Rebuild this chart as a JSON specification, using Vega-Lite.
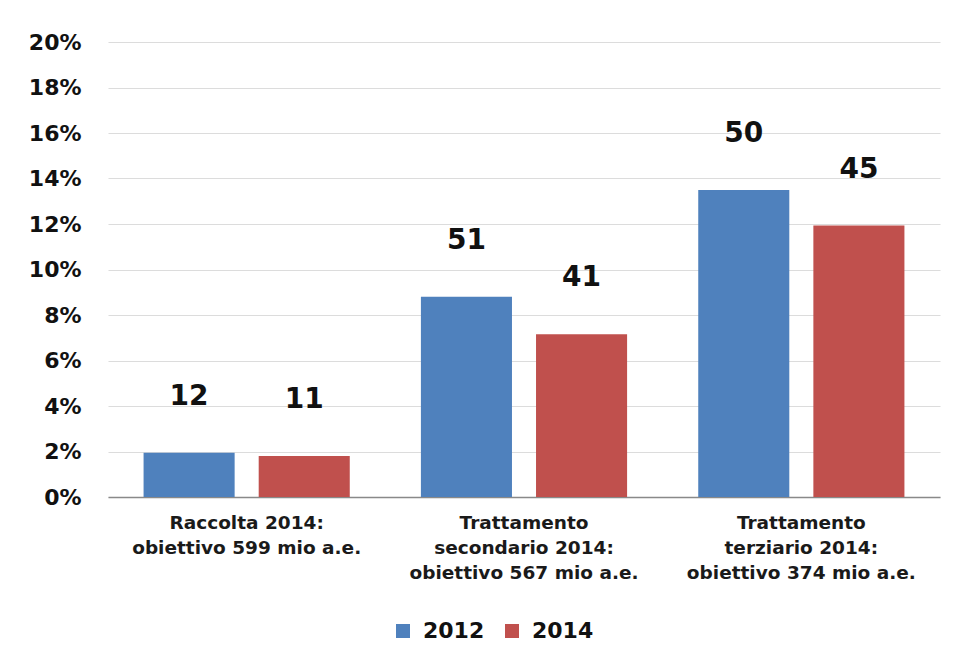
{
  "$schema": "https://vega.github.io/schema/vega-lite/v6.json",
  "width": 832,
  "height": 455,
  "autosize": {"type": "none"},
  "padding": {"left": 108, "top": 42, "right": 17, "bottom": 165},
  "background": "white",
  "config": {
    "view": {"stroke": null},
    "font": "DejaVu Sans"
  },
  "data": {
    "values": [
      {"categoria": "Raccolta 2014:\nobiettivo 599 mio a.e.", "anno": "2012", "quota": 0.0195, "etichetta": "12"},
      {"categoria": "Raccolta 2014:\nobiettivo 599 mio a.e.", "anno": "2014", "quota": 0.018, "etichetta": "11"},
      {"categoria": "Trattamento\nsecondario 2014:\nobiettivo 567 mio a.e.", "anno": "2012", "quota": 0.088, "etichetta": "51"},
      {"categoria": "Trattamento\nsecondario 2014:\nobiettivo 567 mio a.e.", "anno": "2014", "quota": 0.0715, "etichetta": "41"},
      {"categoria": "Trattamento\nterziario 2014:\nobiettivo 374 mio a.e.", "anno": "2012", "quota": 0.135, "etichetta": "50"},
      {"categoria": "Trattamento\nterziario 2014:\nobiettivo 374 mio a.e.", "anno": "2014", "quota": 0.1193, "etichetta": "45"}
    ]
  },
  "encoding": {
    "x": {
      "field": "categoria",
      "type": "nominal",
      "sort": null,
      "scale": {"paddingInner": 0, "paddingOuter": 0},
      "axis": {
        "title": null,
        "labelAngle": 0,
        "labelExpr": "split(datum.label, '\\n')",
        "labelFontSize": 18.5,
        "labelFontWeight": "bold",
        "labelColor": "#1a1a1a",
        "labelLineHeight": 25,
        "labelPadding": 16,
        "labelBaseline": "top",
        "ticks": false,
        "domainColor": "#898989",
        "domainWidth": 1.5,
        "labelLimit": 300
      }
    },
    "xOffset": {
      "field": "anno",
      "type": "nominal",
      "scale": {"paddingInner": 0.209, "paddingOuter": 0.309}
    },
    "y": {
      "field": "quota",
      "type": "quantitative",
      "scale": {"domain": [0, 0.2]},
      "axis": {
        "title": null,
        "format": ".0%",
        "values": [0, 0.02, 0.04, 0.06, 0.08, 0.1, 0.12, 0.14, 0.16, 0.18, 0.2],
        "labelFontSize": 22,
        "labelFontWeight": "bold",
        "labelColor": "#111111",
        "labelPadding": 27,
        "ticks": false,
        "domain": false,
        "gridColor": "#dcdcdc",
        "gridWidth": 1.2
      }
    }
  },
  "layer": [
    {
      "mark": {"type": "bar"},
      "encoding": {
        "color": {
          "field": "anno",
          "type": "nominal",
          "scale": {"domain": ["2012", "2014"], "range": ["#4f81bd", "#c0504d"]},
          "legend": {
            "title": null,
            "orient": "none",
            "legendX": 284,
            "legendY": 578,
            "direction": "horizontal",
            "symbolType": "square",
            "symbolSize": 196,
            "symbolStrokeWidth": 0,
            "labelFontSize": 22,
            "labelFontWeight": "bold",
            "labelColor": "#111111",
            "labelOffset": 9,
            "columnPadding": 16
          }
        }
      }
    },
    {
      "mark": {
        "type": "text",
        "baseline": "middle",
        "align": "center",
        "dy": -56,
        "fontSize": 28,
        "fontWeight": "bold",
        "color": "#111111"
      },
      "encoding": {
        "text": {"field": "etichetta"}
      }
    }
  ]
}
